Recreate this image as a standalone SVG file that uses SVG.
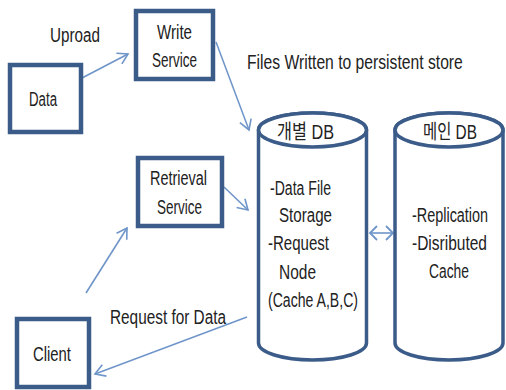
<svg xmlns="http://www.w3.org/2000/svg" width="506" height="390" viewBox="0 0 506 390">
<style>
.box{fill:#fff;stroke:#3b5b89;stroke-width:4.5}
.cyl{fill:#fff;stroke:#3b5b89;stroke-width:3.5}
.t{font-family:"Liberation Sans","Noto Sans CJK KR",sans-serif;font-size:20px;fill:#222}
.c{stroke:#6f95c9;stroke-width:1.6;fill:none}
</style>
<defs>
<marker id="ah" markerUnits="userSpaceOnUse" markerWidth="14" markerHeight="14" refX="11" refY="7" orient="auto-start-reverse" viewBox="0 0 14 14">
<path d="M1,1 L11,7 L1,13" fill="none" stroke="#6f95c9" stroke-width="1.6"/>
</marker>
<marker id="ahs" markerUnits="userSpaceOnUse" markerWidth="14" markerHeight="18" refX="9" refY="9" orient="auto-start-reverse" viewBox="0 0 14 18">
<path d="M2,2 L9,9 L2,16" fill="none" stroke="#6f95c9" stroke-width="1.8"/>
</marker>
</defs>
<rect width="506" height="390" fill="#fff"/>
<g id="connectors">
<line class="c" x1="82" y1="78" x2="128" y2="54" marker-end="url(#ah)"/>
<line class="c" x1="216" y1="42" x2="249" y2="130" marker-end="url(#ah)"/>
<line class="c" x1="224" y1="187" x2="248" y2="210" marker-end="url(#ah)"/>
<line class="c" x1="86" y1="293" x2="127" y2="228" marker-end="url(#ah)"/>
<line class="c" x1="247" y1="317" x2="95" y2="374" marker-end="url(#ah)"/>
<line class="c" x1="370" y1="233" x2="393" y2="233" marker-start="url(#ahs)" marker-end="url(#ahs)"/>
</g>
<g id="labels">
<text class="t" x="50" y="42" textLength="50" lengthAdjust="spacingAndGlyphs">Uproad</text>
<text class="t" transform="translate(247,69) scale(0.784,1)">Files Written to persistent store</text>
<text class="t" x="110" y="324" textLength="116" lengthAdjust="spacingAndGlyphs">Request for Data</text>
</g>
<g id="data">
<rect class="box" x="10" y="65" width="71" height="67"/>
<text class="t" x="29" y="106" textLength="28" lengthAdjust="spacingAndGlyphs">Data</text>
</g>
<g id="write-service">
<rect class="box" x="136" y="11" width="77" height="68"/>
<text class="t" x="157" y="39" textLength="35" lengthAdjust="spacingAndGlyphs">Write</text>
<text class="t" x="152" y="67" textLength="45" lengthAdjust="spacingAndGlyphs">Service</text>
</g>
<g id="retrieval-service">
<rect class="box" x="138" y="158" width="84" height="68"/>
<text class="t" x="150" y="185" textLength="57" lengthAdjust="spacingAndGlyphs">Retrieval</text>
<text class="t" x="157" y="214" textLength="45" lengthAdjust="spacingAndGlyphs">Service</text>
</g>
<g id="client">
<rect class="box" x="17" y="319" width="72" height="68"/>
<text class="t" x="33" y="361" textLength="38" lengthAdjust="spacingAndGlyphs">Client</text>
</g>
<g id="db1">
<path class="cyl" d="M258.5,130 L258.5,343 A54,17 0 0 0 366.5,343 L366.5,130 A54,17 0 0 0 258.5,130 Z"/>
<ellipse class="cyl" cx="312.5" cy="130" rx="54" ry="17" fill="none"/>
<text class="t" x="277" y="139" textLength="57" lengthAdjust="spacingAndGlyphs">개별 DB</text>
<text class="t" x="270" y="195" textLength="61" lengthAdjust="spacingAndGlyphs">-Data File</text>
<text class="t" x="279" y="222" textLength="53" lengthAdjust="spacingAndGlyphs">Storage</text>
<text class="t" x="268" y="250" textLength="61" lengthAdjust="spacingAndGlyphs">-Request</text>
<text class="t" x="279" y="279" textLength="37" lengthAdjust="spacingAndGlyphs">Node</text>
<text class="t" x="268" y="307" textLength="90" lengthAdjust="spacingAndGlyphs">(Cache A,B,C)</text>
</g>
<g id="db2">
<path class="cyl" d="M395,130 L395,343 A54,17 0 0 0 503,343 L503,130 A54,17 0 0 0 395,130 Z"/>
<ellipse class="cyl" cx="449" cy="130" rx="54" ry="17" fill="none"/>
<text class="t" x="423" y="139" textLength="54" lengthAdjust="spacingAndGlyphs">메인 DB</text>
<text class="t" transform="translate(412,222) scale(0.721,1)">-Replication</text>
<text class="t" transform="translate(412,250) scale(0.776,1)">-Disributed</text>
<text class="t" x="429" y="278" textLength="40" lengthAdjust="spacingAndGlyphs">Cache</text>
</g>
</svg>
